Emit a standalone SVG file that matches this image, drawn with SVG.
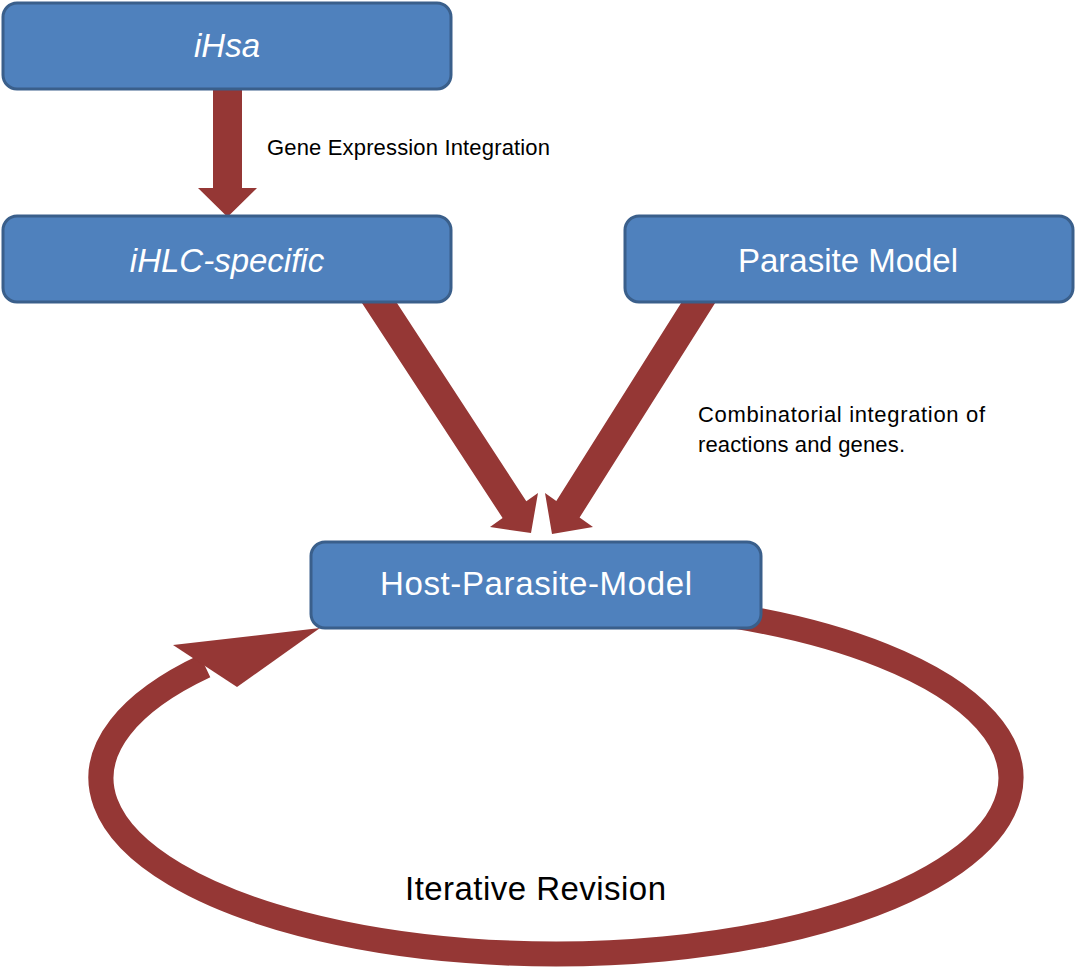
<svg xmlns="http://www.w3.org/2000/svg" width="1076" height="968" viewBox="0 0 1076 968">
<style>
.box{fill:#4F81BD;stroke:#3A5F8B;stroke-width:3}
.lbl{font-family:"Liberation Sans",Arial,sans-serif;font-size:33px;fill:#FFFFFF;text-anchor:middle}
.it{font-style:italic}
.note{font-family:"Liberation Sans",Arial,sans-serif;font-size:22px;fill:#000000}
.arr{fill:#953735;stroke:none}
.loop{fill:none;stroke:#953735;stroke-width:25}
</style>
<rect width="1076" height="968" fill="#FFFFFF"/>
<g id="connectors">
<polygon class="arr" points="213,88 242,88 242,188 257,188 227.5,217 198,188 213,188"/>
<polygon class="arr" points="360,300 502.6,518 490,527 531,533 538,493 526.3,501.3 395,300"/>
<polygon class="arr" points="683,300 556.3,501 545,493 552,534 593,527 579.6,517.5 717,300"/>
<path class="loop" d="M 735 616.2 A 455 176 0 1 1 205 666"/>
<polygon class="arr" points="320,628 173,645 237,687"/>
</g>
<g id="node-ihsa">
<rect class="box" x="3" y="3" width="448" height="86" rx="14"/>
<text class="lbl it" x="227" y="57">iHsa</text>
</g>
<g id="node-ihlc">
<rect class="box" x="3" y="216" width="448" height="86" rx="14"/>
<text class="lbl it" x="227" y="272">iHLC-specific</text>
</g>
<g id="node-parasite">
<rect class="box" x="625" y="216" width="448" height="86" rx="14"/>
<text class="lbl" x="848" y="272">Parasite Model</text>
</g>
<g id="node-hostparasite">
<rect class="box" x="311" y="542" width="450" height="86" rx="14"/>
<text class="lbl" x="536" y="595" textLength="312">Host-Parasite-Model</text>
</g>
<g id="labels">
<text class="note" x="267" y="155" textLength="283">Gene Expression Integration</text>
<text class="note" x="698" y="422" textLength="287">Combinatorial integration of</text>
<text class="note" x="698" y="452" textLength="207">reactions and genes.</text>
<text class="note" x="405" y="900" style="font-size:33px" textLength="261">Iterative Revision</text>
</g>
</svg>
